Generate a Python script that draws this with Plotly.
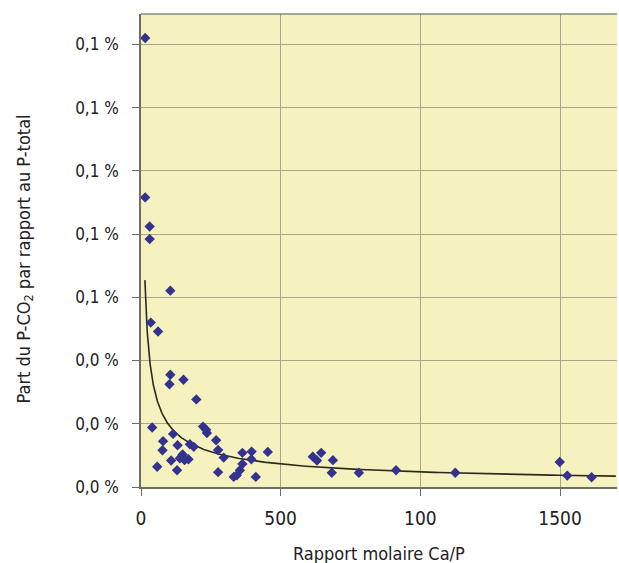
import numpy as np
import plotly.graph_objects as go

# Data (x: Ca/P molar ratio, y: share in %)
ratio_x = [15, 15, 31, 31, 105, 35, 61, 105, 102, 152, 198, 40, 115, 79, 77, 58,
           108, 131, 129, 149, 139, 170, 156, 175, 189, 222, 233, 236, 269, 276,
           296, 276, 343, 332, 354, 363, 363, 396, 395, 411, 454, 615, 630, 645,
           687, 683, 780, 913, 1125, 1499, 1526, 1613]
share_y = [0.1420, 0.0916, 0.0824, 0.0784, 0.0621, 0.0520, 0.0492, 0.0355, 0.0325,
           0.0339, 0.0277, 0.0188, 0.0168, 0.0145, 0.0116, 0.0064, 0.0084, 0.0132,
           0.0053, 0.0103, 0.0091, 0.0088, 0.0085, 0.0135, 0.0127, 0.0191, 0.0181,
           0.0171, 0.0148, 0.0117, 0.0093, 0.0047, 0.0037, 0.0032, 0.0053, 0.0073,
           0.0108, 0.0112, 0.0088, 0.0032, 0.0111, 0.0096, 0.0084, 0.0108, 0.0085,
           0.0045, 0.0045, 0.0053, 0.0045, 0.0079, 0.0036, 0.0031]

# Power trend line y = a * x^b (as drawn in the chart)
trend_a = 0.3307
trend_b = -0.614
trend_start = 14
trend_end = 1700

x_tickvals = [0, 500, 1000, 1500]
x_ticktext = ["0", "500", "100", "1500"]
y_tickvals = [0, 0.02, 0.04, 0.06, 0.08, 0.10, 0.12, 0.14]
y_ticktext = ["0,0 %", "0,0 %", "0,0 %", "0,1 %", "0,1 %", "0,1 %", "0,1 %", "0,1 %"]

tx = np.exp(np.linspace(np.log(trend_start), np.log(trend_end), 300))
ty = trend_a * tx ** trend_b

fig = go.Figure()
fig.add_trace(go.Scatter(x=tx, y=ty, mode="lines",
                         line=dict(color="#2b2a1c", width=1.6),
                         hoverinfo="skip", showlegend=False))
fig.add_trace(go.Scatter(x=ratio_x, y=share_y, mode="markers",
                         marker=dict(symbol="diamond", size=8, color="#33338f"),
                         showlegend=False))

font_family = "Liberation Sans Narrow, DejaVu Sans Condensed, Open Sans, sans-serif"
fig.update_layout(
    width=619, height=563,
    margin=dict(l=141, r=2, t=14, b=76),
    paper_bgcolor="white",
    plot_bgcolor="#f5f2c0",
    font=dict(family=font_family, color="#222222"),
    showlegend=False,
)
fig.update_xaxes(
    range=[0, 1704], tickvals=x_tickvals, ticktext=x_ticktext,
    showgrid=True, gridcolor="#a8a692", gridwidth=1.3,
    showline=True, linecolor="#6e6e62", linewidth=1.5,
    ticks="outside", ticklen=7, tickcolor="#6e6e62", tickwidth=1.3,
    tickfont=dict(size=19), ticklabelstandoff=6,
    zeroline=False,
)
fig.update_yaxes(
    range=[0, 0.1496], tickvals=y_tickvals, ticktext=y_ticktext,
    showgrid=True, gridcolor="#a8a692", gridwidth=1.3,
    showline=True, linecolor="#6e6e62", linewidth=1.5,
    ticks="outside", ticklen=7, tickcolor="#6e6e62", tickwidth=1.3,
    tickfont=dict(size=17), ticklabelstandoff=10,
    zeroline=False,
)
fig.add_shape(type="line", xref="paper", yref="paper", x0=0, x1=1, y0=1, y1=1,
              line=dict(color="#8a8a7a", width=1.5))
fig.add_annotation(text="Rapport molaire Ca/P", xref="paper", yref="paper",
                   x=0.5, y=0, xanchor="center", yanchor="middle", yshift=-66,
                   showarrow=False, font=dict(size=18))
fig.add_annotation(text="Part du P-CO<sub>2</sub> par rapport au P-total",
                   xref="paper", yref="paper", x=0, y=0.5, xanchor="center",
                   yanchor="middle", xshift=-117, yshift=-9, textangle=-90,
                   showarrow=False, font=dict(size=18))

fig.write_html("out.html")
